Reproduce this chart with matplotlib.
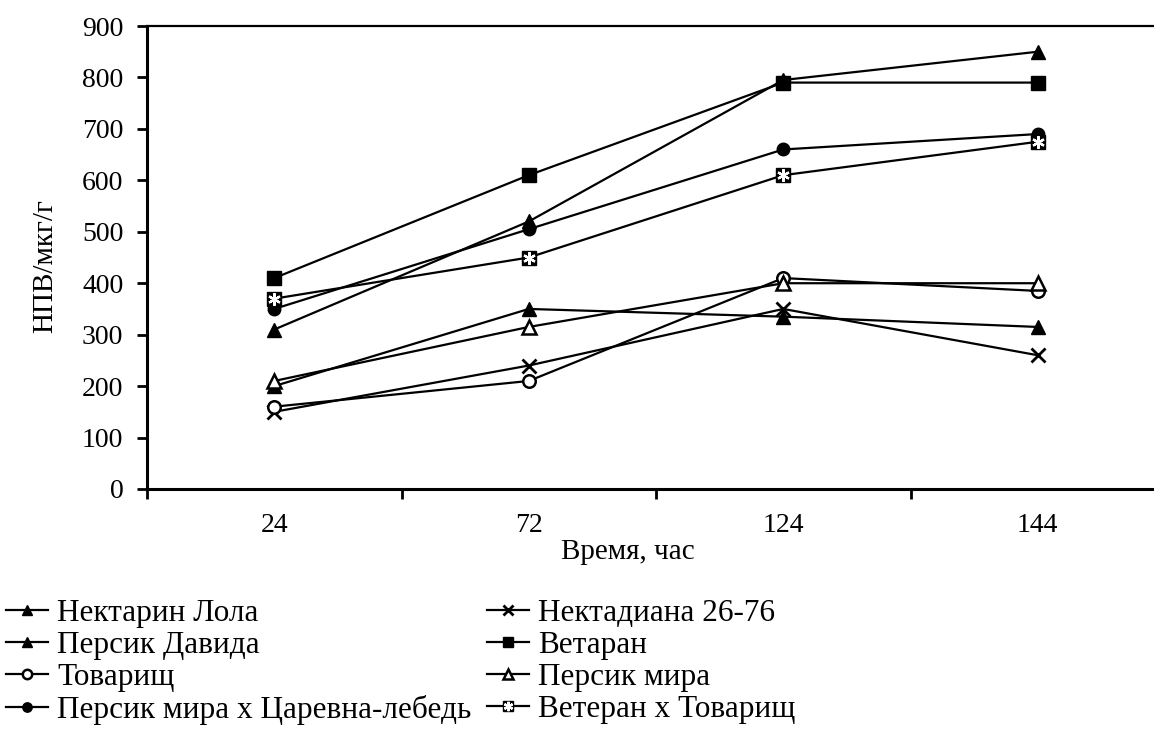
import matplotlib.pyplot as plt
from matplotlib.legend_handler import HandlerTuple

plt.rcParams['font.family'] = ['Liberation Serif', 'DejaVu Serif']

hours = ['24', '72', '124', '144']

lola = [310, 520, 795, 850]
nektadiana = [150, 240, 350, 260]
davida = [200, 350, 335, 315]
vetaran = [410, 610, 790, 790]
tovarisch = [160, 210, 410, 385]
persik_mira = [210, 315, 400, 400]
pm_carevna = [350, 505, 660, 690]
veteran_tov = [370, 450, 610, 675]

names = ['Нектарин Лола', 'Нектадиана 26-76', 'Персик Давида', 'Ветаран',
         'Товарищ', 'Персик мира', 'Персик мира х Царевна-лебедь',
         'Ветеран х Товарищ']

fig = plt.figure(figsize=(11.54, 7.42), dpi=100)
ax = fig.add_axes([147 / 1154, 1 - 489 / 742, (1165 - 147) / 1154, (489 - 26) / 742])

x = list(range(len(hours)))
lw = 1.6
ms = 10
asterisk = (6, 2, 0)

h = {}
h[0], = ax.plot(x, lola, color='black', lw=lw, marker='^', ms=ms, mfc='black', mec='black')
h[1], = ax.plot(x, nektadiana, color='black', lw=lw, marker='x', ms=ms, mew=2)
h[2], = ax.plot(x, davida, color='black', lw=lw, marker='^', ms=ms, mfc='black', mec='black')
h[3], = ax.plot(x, vetaran, color='black', lw=lw, marker='s', ms=ms, mfc='black', mec='black')
h[4], = ax.plot(x, tovarisch, color='black', lw=lw, marker='o', ms=ms - 1, mfc='white', mec='black', mew=1.8)
h[5], = ax.plot(x, persik_mira, color='black', lw=lw, marker='^', ms=ms, mfc='white', mec='black', mew=1.8)
h[6], = ax.plot(x, pm_carevna, color='black', lw=lw, marker='o', ms=ms - 1, mfc='black', mec='black')
# square with a white asterisk on top
sq, = ax.plot(x, veteran_tov, color='black', lw=lw, marker='s', ms=ms, mfc='black', mec='black')
st, = ax.plot(x, veteran_tov, ls='none', marker=asterisk, ms=ms - 1, mec='white', mew=1.6)

ax.set_xlim(-0.5, 3.5)
ax.set_ylim(0, 900)
ax.set_yticks(range(0, 901, 100))
ax.set_xticks([-0.5, 0.5, 1.5, 2.5, 3.5])
ax.set_xticklabels([])
ax.set_xticks(x, minor=True)
ax.set_xticklabels(hours, minor=True)
ax.tick_params(axis='x', which='minor', length=0, pad=17, labelsize=20)
ax.tick_params(axis='x', which='major', direction='out', length=7, width=2)
ax.tick_params(axis='y', direction='out', length=7, width=2, labelsize=20, pad=10)

for s in ['left', 'bottom']:
    ax.spines[s].set_linewidth(2.2)
ax.spines['top'].set_linewidth(1.6)
ax.spines['right'].set_visible(False)

fig.text(45 / 1154, 1 - 266 / 742, 'НПВ/мкг/г', fontsize=21, rotation=90,
         ha='center', va='center')
fig.text(628 / 1154, 1 - 552 / 742, 'Время, час', fontsize=21, ha='center', va='center')

# legend filled column by column
order = [0, 2, 4, 6, 1, 3, 5, 7]
handles = [h.get(i) if i != 7 else (sq, st) for i in order]
labels = [names[i] for i in order]
leg = fig.legend(handles, labels, ncol=2, loc='upper left',
                 bbox_to_anchor=(6 / 1154, 1 - 599 / 742), frameon=False,
                 borderpad=0, borderaxespad=0,
                 fontsize=22.5, handlelength=1.35, handletextpad=0.28,
                 columnspacing=0.5, labelspacing=0.1, markerscale=0.75,
                 handler_map={tuple: HandlerTuple(ndivide=1, pad=0)})

fig.savefig('out.png', dpi=100)
